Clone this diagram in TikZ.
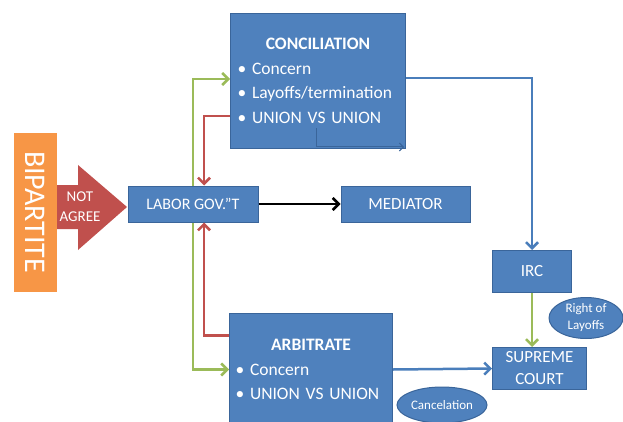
\documentclass[tikz,border=0pt]{standalone}
\usepackage{fontspec}
\setmainfont{Carlito}
\usetikzlibrary{positioning, arrows.meta, calc, shapes.geometric}

\definecolor{boxblue}{HTML}{4F81BD}
\definecolor{boxedge}{HTML}{3A659A}
\definecolor{lineblue}{HTML}{4A7EBB}
\definecolor{flowgreen}{HTML}{9BBB59}
\definecolor{flowred}{HTML}{C0504D}
\definecolor{bipor}{HTML}{F79646}

\tikzset{
    blk/.style={draw=boxedge, fill=boxblue, text=white, line width=1pt, inner sep=0pt, font=\fontsize{17}{22}\selectfont},
    listblk/.style={blk, align=left, text width=161pt, inner xsep=7pt, font=\fontsize{17.5}{24.5}\selectfont},
    oval/.style={ellipse, draw=boxedge, fill=boxblue, text=white, line width=1pt, inner sep=0pt, align=center, font=\fontsize{13}{17}\selectfont},
    tip/.style={-{Straight Barb[length=6pt,width=12pt]}},
    goline/.style={tip, draw=flowgreen, line width=2.5pt},
    backline/.style={tip, draw=flowred, line width=2.5pt},
    blueline/.style={tip, draw=lineblue, line width=2.5pt},
}

\begin{document}
\begin{tikzpicture}[x=1pt, y=-1pt]
    \useasboundingbox (0,0) rectangle (623,422);

    % left side
    \fill[bipor] (14,133) rectangle (57,292);
    \node[text=white, rotate=-90, font=\fontsize{30}{30}\selectfont] (bip) at (35.5,212) {BIPARTITE};
    \fill[flowred] (57,185) -- (78,185) -- (78,165) -- (127,207) -- (78,250) -- (78,229) -- (57,229) -- cycle;
    \node[text=white, align=center, font=\fontsize{15}{20}\selectfont] (notagree) at (80,207) {NOT\\AGREE};

    % boxes
    \node[blk, minimum width=130pt, minimum height=36pt, font=\fontsize{16}{18}\selectfont] (labor) at (193,204) {LABOR GOV.''T};
    \node[blk, minimum width=129pt, minimum height=36pt, right=82pt of labor] (mediator) {MEDIATOR};
    \node[listblk, minimum height=135pt, anchor=north west] (concil) at (230,13)
        {\makebox[\linewidth]{\bfseries CONCILIATION}\\
         \textbullet\ Concern\\
         \textbullet\ Layoffs/termination\\
         \textbullet\ UNION VS UNION};
    \node[listblk, text width=151pt, inner xsep=6pt, minimum height=112pt, anchor=north west] (arbit) at (229,313)
        {\makebox[\linewidth]{\bfseries ARBITRATE}\\
         \textbullet\ Concern\\
         \mbox{\textbullet\ UNION VS UNION}};
    \node[blk, minimum width=79pt, minimum height=42pt, anchor=north west] (irc) at (492,250) {IRC};
    \node[blk, minimum width=94pt, minimum height=42pt, anchor=north west, align=center] (supreme) at (492,347) {SUPREME\\COURT};
    \node[oval, minimum width=74pt, minimum height=41pt] (layoffs) at (586,318) {Right of\\Layoffs};
    \node[oval, minimum width=90pt, minimum height=36pt] (cancel) at (442,405) {Cancelation};

    % connectors
    \draw[goline] (labor.north) |- ([yshift=2pt]concil.west);
    \draw[backline] ([yshift=-35pt]concil.west) -| ([xshift=11pt]labor.north);
    \draw[goline] (labor.south) |- (arbit.west);
    \draw[backline] ([yshift=34pt]arbit.west) -| ([xshift=11pt]labor.south);
    \draw[tip, line width=2.5pt] (labor) -- (mediator);
    \draw[blueline] ([yshift=3pt]concil.east) -| (irc.north);
    \draw[goline] (irc.south) -- (irc.south |- supreme.north);
    \draw[blueline] (arbit.east) -- (supreme.west);
    \draw[draw=boxedge, line width=1pt, -{Straight Barb[length=4pt,width=8pt]}] ($(concil.south)+(-2,-21)$) |- ($(concil.south east)+(-2,-2)$);
\end{tikzpicture}
\end{document}
